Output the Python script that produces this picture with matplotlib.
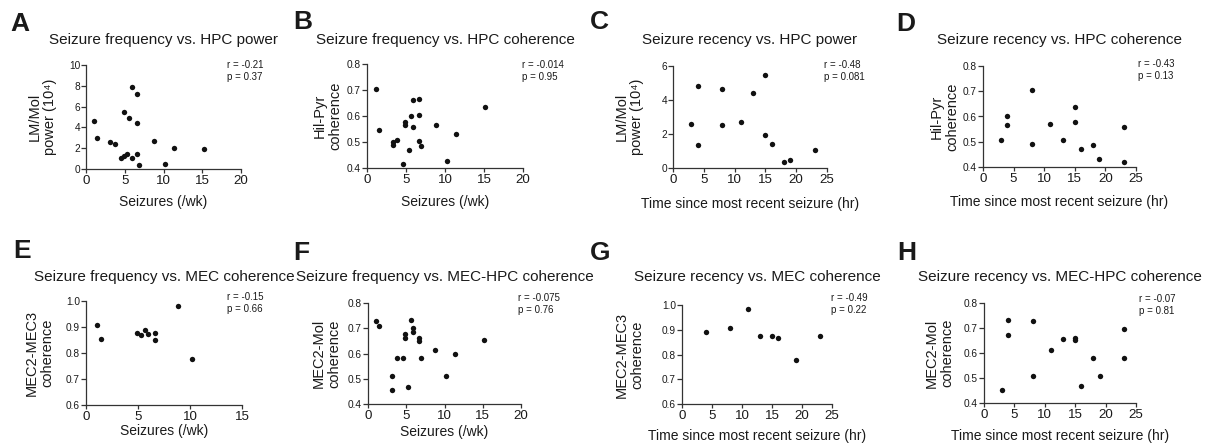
import matplotlib
matplotlib.use("Agg")
import matplotlib.pyplot as plt

plt.rcParams['font.family'] = ['Liberation Sans', 'DejaVu Sans']

# ---------------- data ----------------
a_x = [1.0, 1.4, 3.1, 3.8, 4.9, 4.5, 4.9, 5.3, 5.6, 5.9, 5.9, 6.6, 6.6, 6.6, 6.9, 8.8, 10.2, 11.4, 15.2]
a_y = [4.63, 2.96, 2.57, 2.44, 5.47, 1.09, 1.29, 1.41, 4.86, 7.88, 1.09, 7.23, 4.40, 1.48, 0.35, 2.70, 0.48, 1.99, 1.96]

b_x = [1.15, 1.5, 3.28, 3.28, 3.9, 4.64, 4.89, 4.89, 5.36, 5.66, 5.91, 5.96, 6.68, 6.72, 6.64, 6.98, 8.85, 10.2, 11.36, 15.1]
b_y = [0.702, 0.547, 0.500, 0.490, 0.507, 0.417, 0.566, 0.575, 0.468, 0.601, 0.660, 0.556, 0.664, 0.602, 0.504, 0.485, 0.567, 0.427, 0.530, 0.635]

c_x = [3, 4, 4, 8, 8, 11, 13, 15, 15, 16, 18, 19, 23]
c_y = [2.57, 4.85, 1.33, 4.63, 2.54, 2.71, 4.40, 5.47, 1.95, 1.41, 0.33, 0.45, 1.06]

d_x = [3, 4, 4, 8, 8, 11, 13, 15, 15, 16, 18, 19, 23, 23]
d_y = [0.505, 0.603, 0.568, 0.705, 0.493, 0.570, 0.507, 0.638, 0.577, 0.470, 0.486, 0.430, 0.560, 0.420]

e_x = [1.09, 1.44, 4.89, 5.31, 5.63, 5.92, 6.62, 6.68, 8.89, 10.17]
e_y = [0.909, 0.855, 0.876, 0.871, 0.890, 0.873, 0.876, 0.851, 0.982, 0.777]

f_x = [1.09, 1.44, 3.19, 3.19, 3.84, 4.59, 4.80, 4.89, 5.28, 5.59, 5.90, 5.90, 6.64, 6.72, 6.94, 8.82, 10.22, 11.35, 15.15]
f_y = [0.729, 0.708, 0.512, 0.454, 0.584, 0.584, 0.678, 0.662, 0.469, 0.734, 0.701, 0.684, 0.662, 0.648, 0.582, 0.614, 0.511, 0.597, 0.653]

g_x = [4, 8, 11, 13, 15, 16, 19, 23]
g_y = [0.890, 0.909, 0.983, 0.874, 0.874, 0.868, 0.776, 0.874]

h_x = [3, 4, 4, 8, 8, 11, 13, 15, 15, 16, 18, 19, 23, 23]
h_y = [0.452, 0.731, 0.673, 0.727, 0.509, 0.611, 0.657, 0.660, 0.652, 0.467, 0.580, 0.508, 0.696, 0.581]

letters = ['A', 'B', 'C', 'D', 'E', 'F', 'G', 'H']
titles = ['Seizure frequency vs. HPC power', 'Seizure frequency vs. HPC coherence',
          'Seizure recency vs. HPC power', 'Seizure recency vs. HPC coherence',
          'Seizure frequency vs. MEC coherence', 'Seizure frequency vs. MEC-HPC coherence',
          'Seizure recency vs. MEC coherence', 'Seizure recency vs. MEC-HPC coherence']
freq_label = 'Seizures (/wk)'
rec_label = 'Time since most recent seizure (hr)'
xlabels = [freq_label, freq_label, rec_label, rec_label, freq_label, freq_label, rec_label, rec_label]
ylabels = ['LM/Mol\npower (10\u2074)', 'Hil-Pyr\ncoherence', 'LM/Mol\npower (10\u2074)', 'Hil-Pyr\ncoherence',
           'MEC2-MEC3\ncoherence', 'MEC2-Mol\ncoherence', 'MEC2-MEC3\ncoherence', 'MEC2-Mol\ncoherence']
stats = ['r = -0.21\np = 0.37', 'r = -0.014\np = 0.95', 'r = -0.48\np = 0.081', 'r = -0.43\np = 0.13',
         'r = -0.15\np = 0.66', 'r = -0.075\np = 0.76', 'r = -0.49\np = 0.22', 'r = -0.07\np = 0.81']
xlims = [(0, 20), (0, 20), (0, 25), (0, 25), (0, 15), (0, 20), (0, 25), (0, 25)]
xtick_step = [5] * 8
ylims = [(0, 10), (0.4, 0.8), (0, 6), (0.4, 0.8), (0.6, 1.0), (0.4, 0.8), (0.6, 1.0), (0.4, 0.8)]
ytick_vals = [[0, 2, 4, 6, 8, 10], [0.4, 0.5, 0.6, 0.7, 0.8], [0, 2, 4, 6], [0.4, 0.5, 0.6, 0.7, 0.8],
              [0.6, 0.7, 0.8, 0.9, 1.0], [0.4, 0.5, 0.6, 0.7, 0.8], [0.6, 0.7, 0.8, 0.9, 1.0], [0.4, 0.5, 0.6, 0.7, 0.8]]
xs = [a_x, b_x, c_x, d_x, e_x, f_x, g_x, h_x]
ys = [a_y, b_y, c_y, d_y, e_y, f_y, g_y, h_y]

# ---------------- layout (pixels) ----------------
W, H = 1221, 448
boxes = [(86, 241, 65, 169), (367, 523, 64, 168), (673, 827, 66, 168), (983, 1136, 66, 167),
         (86, 242, 301, 405), (368, 521, 303, 404), (682, 832, 305, 404), (984, 1136, 303, 403)]
letter_pos = [(10, 12), (293, 10), (590, 10), (896, 12), (13, 239), (293, 241), (590, 241), (897, 241)]
title_cy = [40, 40, 40, 40, 277, 277, 277, 277]
xlabel_cy = [202, 202, 204, 202, 431, 432, 436, 436]
ylabel_off = [43.5, 39, 43.5, 38, 46, 41, 52, 44]
stat_pos = [(227, 60), (522, 60), (824, 60), (1138, 59), (227, 292.5), (518, 293), (831, 293), (1139, 294)]

ink = '#1a1a1a'
fig = plt.figure(figsize=(W / 100, H / 100), dpi=100)
fig.patch.set_facecolor('white')

for i in range(8):
    l, r, t, b = boxes[i]
    ax = fig.add_axes([l / W, 1 - b / H, (r - l) / W, (b - t) / H])
    ax.scatter(xs[i], ys[i], s=15, color='#111111', linewidths=0, clip_on=False, zorder=3)
    ax.set_xlim(*xlims[i])
    ax.set_ylim(*ylims[i])
    x0, x1 = xlims[i]
    ax.set_xticks(list(range(x0, x1 + 1, xtick_step[i])))
    ax.set_yticks(ytick_vals[i])
    if ylims[i][1] <= 1.0:
        ax.set_yticklabels([f'{v:.1f}' for v in ytick_vals[i]])
    else:
        ax.set_yticklabels([f'{v:g}' for v in ytick_vals[i]])
    for s in ['top', 'right']:
        ax.spines[s].set_visible(False)
    for s in ['left', 'bottom']:
        ax.spines[s].set_color('#333333')
        ax.spines[s].set_linewidth(0.9)
    ax.tick_params(axis='y', direction='out', length=3.5, width=0.9, color='#333333',
                   labelsize=7.3, pad=0.8, labelcolor=ink)
    ax.tick_params(axis='x', direction='out', length=3, width=0.9, color='#333333',
                   labelsize=9.6, pad=1.2, labelcolor=ink)
    ax.patch.set_alpha(0)

    hpx = b - t
    wpx = r - l
    ax.set_xlabel(xlabels[i], fontsize=10, color=ink, va='center')
    ax.xaxis.set_label_coords(0.5, (b - xlabel_cy[i]) / hpx)
    ax.set_ylabel(ylabels[i], fontsize=10.5, color=ink, va='center', linespacing=1.15)
    ax.yaxis.set_label_coords(-ylabel_off[i] / wpx, 0.5)

    ax.text(0.5, (b - title_cy[i]) / hpx, titles[i], transform=ax.transAxes,
            ha='center', va='center', fontsize=11, color=ink)
    sx, sy = stat_pos[i]
    ax.text((sx - l) / wpx, (b - sy) / hpx, stats[i], transform=ax.transAxes,
            ha='left', va='top', fontsize=7, color=ink, linespacing=1.25)

    lx, ly = letter_pos[i]
    fig.text(lx / W, 1 - ly / H, letters[i], ha='left', va='top', fontsize=19,
             fontweight='bold', color=ink)

fig.savefig('out.png', dpi=100, facecolor='white')
